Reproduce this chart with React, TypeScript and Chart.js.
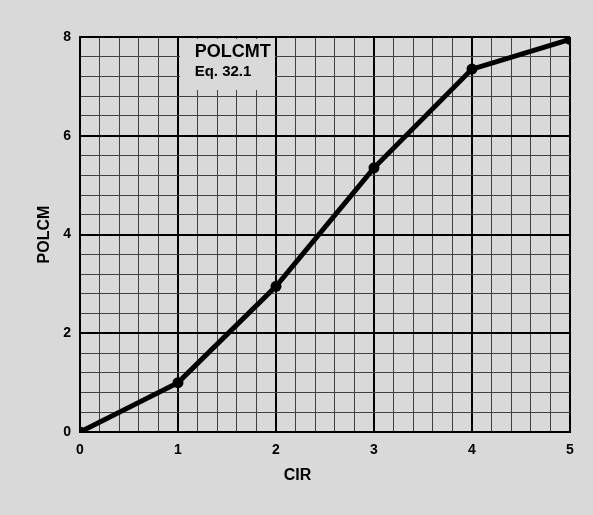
import React, { useEffect, useRef } from 'react';
import { Chart, registerables } from 'chart.js';

Chart.register(...registerables);

// ---- data ----
const CIR = [0, 1, 2, 3, 4, 5];
const POLCM = [0, 1.0, 2.95, 5.35, 7.35, 7.95];
const X_TICKS = [0, 1, 2, 3, 4, 5];
const Y_TICKS = [0, 2, 4, 6, 8];
const TITLE = 'POLCMT';
const SUBTITLE = 'Eq. 32.1';
const X_LABEL = 'CIR';
const Y_LABEL = 'POLCM';

const BG = '#d9d9d9';
const FONT = '"Liberation Sans", Arial, Helvetica, sans-serif';

const near = (v: number, list: number[]) => list.some((t) => Math.abs(t - v) < 1e-6);

const bgPlugin = {
  id: 'bgFill',
  beforeDraw(chart: any) {
    const { ctx, width, height } = chart;
    ctx.save();
    ctx.fillStyle = BG;
    ctx.fillRect(0, 0, width, height);
    ctx.restore();
  },
};

const annotPlugin = {
  id: 'annot',
  beforeDatasetsDraw(chart: any) {
    const { ctx, scales } = chart;
    const x = scales.x;
    const y = scales.y;
    ctx.save();
    // blank box behind the label
    const l = Math.round(x.getPixelForValue(1) + 1.5);
    const r = Math.round(x.getPixelForValue(2) - 1.5);
    const t = Math.round(y.getPixelForValue(8) + 1.5);
    const b = Math.round(y.getPixelForValue(6.92));
    ctx.fillStyle = BG;
    ctx.fillRect(l, t, r - l, b - t);
    ctx.fillStyle = '#000';
    ctx.textAlign = 'left';
    ctx.textBaseline = 'middle';
    ctx.font = `bold 18px ${FONT}`;
    ctx.fillText(TITLE, x.getPixelForValue(1.17), y.getPixelForValue(7.7));
    ctx.font = `bold 15px ${FONT}`;
    ctx.fillText(SUBTITLE, x.getPixelForValue(1.17), y.getPixelForValue(7.3));
    // x axis title
    ctx.textAlign = 'center';
    ctx.font = `bold 16px ${FONT}`;
    ctx.fillText(X_LABEL, x.getPixelForValue(2.22), 476);
    ctx.restore();
  },
};

export default function App() {
  const ref = useRef<HTMLCanvasElement>(null);

  useEffect(() => {
    if (!ref.current) return;
    const chart = new Chart(ref.current, {
      type: 'line',
      data: {
        datasets: [
          {
            label: Y_LABEL,
            data: CIR.map((c, i) => ({ x: c, y: POLCM[i] })),
            borderColor: '#000',
            backgroundColor: '#000',
            borderWidth: 5,
            pointRadius: 5.5,
            pointBackgroundColor: '#000',
            pointBorderWidth: 0,
            tension: 0,
          },
        ],
      },
      options: {
        responsive: false,
        animation: false,
        layout: { padding: { left: 31, top: 37, right: 23, bottom: 25 } },
        plugins: {
          legend: { display: false },
          tooltip: { enabled: false },
        },
        scales: {
          x: {
            type: 'linear',
            min: 0,
            max: 5,
            afterFit: (s: any) => {
              s.height = 58;
            },
            border: { display: true, color: '#000', width: 2 },
            grid: {
              drawTicks: false,
              color: (c: any) => (near(c.tick.value, X_TICKS) ? '#000' : '#404040'),
              lineWidth: (c: any) => (near(c.tick.value, X_TICKS) ? 2 : 1),
            },
            ticks: {
              stepSize: 0.2,
              autoSkip: false,
              maxRotation: 0,
              padding: 10,
              color: '#000',
              font: { family: FONT, size: 14, weight: 'bold' },
              callback: (v: any) => (near(Number(v), X_TICKS) ? String(Math.round(Number(v))) : ''),
            },
            title: { display: false },
          },
          y: {
            type: 'linear',
            min: 0,
            max: 8,
            afterFit: (s: any) => {
              s.width = 49;
            },
            border: { display: true, color: '#000', width: 2 },
            grid: {
              drawTicks: false,
              color: (c: any) => (near(c.tick.value, Y_TICKS) ? '#000' : '#404040'),
              lineWidth: (c: any) => (near(c.tick.value, Y_TICKS) ? 2 : 1),
            },
            ticks: {
              stepSize: 0.4,
              autoSkip: false,
              padding: 9,
              color: '#000',
              font: { family: FONT, size: 14, weight: 'bold' },
              callback: (v: any) => (near(Number(v), Y_TICKS) ? String(Math.round(Number(v))) : ''),
            },
            title: {
              display: true,
              text: Y_LABEL,
              color: '#000',
              font: { family: FONT, size: 16, weight: 'bold' },
              padding: { top: 4, bottom: 4 },
            },
          },
        },
      },
      plugins: [bgPlugin, annotPlugin],
    });
    return () => chart.destroy();
  }, []);

  return (
    <div style={{ position: 'fixed', left: 0, top: 0, width: 593, height: 515 }}>
      <canvas ref={ref} width={593} height={515} style={{ display: 'block' }} />
    </div>
  );
}
